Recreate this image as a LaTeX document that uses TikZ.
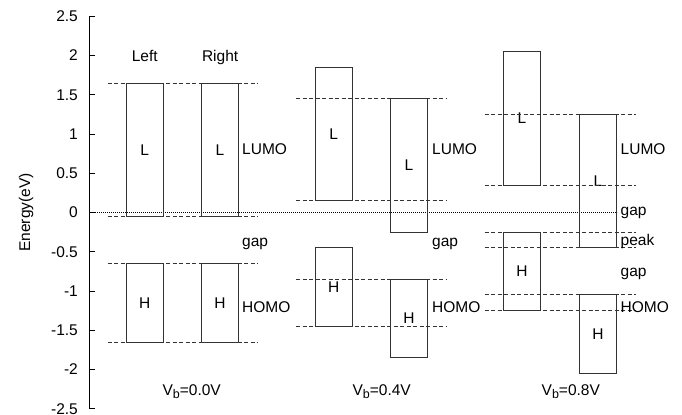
\documentclass[tikz,border=0pt]{standalone}
\usepackage{fontspec}
\setmainfont{Liberation Sans}
\usetikzlibrary{arrows.meta,positioning}
\newcommand{\biasV}[1]{V\raisebox{-0.35ex}{\fontsize{12.5}{12.5}\selectfont b}=#1V}
\tikzset{
  band/.style={draw=black!80,line width=0.9pt},
  lvl/.style={draw=black!80,line width=0.9pt,dash pattern=on 4pt off 2.5pt},
  lab/.style={inner sep=0pt,font=\fontsize{15.5}{17}\selectfont},
}

\begin{document}
\begin{tikzpicture}[x=1pt,y=78.5pt,>=Latex]
\useasboundingbox (0,-2.567) rectangle (682,2.707);
% axis
\draw[line width=0.9pt] (89,2.5)--(89,-2.5);
\foreach \v [count=\i] in {2.5,2,1.5,1,0.5,0,-0.5,-1,-1.5,-2,-2.5} {
  \draw[line width=0.9pt] (89,\v)--(95,\v);
  \node[lab,anchor=east] (tick\i) at (78,\v) {\v};
}
\node[lab,rotate=90] (ylab) at (26,0) {Energy(eV)};
\draw[line width=0.6pt,dash pattern=on 0.8pt off 1.2pt] (89,0)--(617,0);

% boxes: x/top/bottom/letter
\foreach \x/\t/\b/\s [count=\i] in {126/1.65/-0.05/L,201.3/1.65/-0.05/L,
    126/-0.65/-1.65/H,201.3/-0.65/-1.65/H,
    315/1.85/0.15/L,390.3/1.45/-0.25/L,315/-0.45/-1.45/H,390.3/-0.85/-1.85/H,
    503.3/2.05/0.35/L,579.3/1.25/-0.45/L,503.3/-0.25/-1.25/H,579.3/-1.05/-2.05/H} {
  \draw[band] (\x,\t) rectangle (\x+37.5,\b);
  \node[lab] (box\i) at (\x+18.75,{(\t+\b)/2}) {\s};
}

% levels
\foreach \y in {1.65,-0.05,-0.65,-1.65} \draw[lvl] (107.7,\y)--(258.3,\y);
\foreach \y in {1.45,0.15,-0.85,-1.45} \draw[lvl] (296,\y)--(446.7,\y);
\foreach \y in {1.25,0.35,-0.25,-0.45,-1.05,-1.25} \draw[lvl] (484.7,\y)--(636,\y);

\node[lab,anchor=base] (left) at (144.7,1.92) {Left};
\node[lab,anchor=base] (right) at (220.1,1.92) {Right};

% side labels
\foreach \x [count=\i] in {242,432} {
  \node[lab,anchor=base west] (lumo\i) at (\x,0.74) {LUMO};
  \node[lab,anchor=base west] (gap\i) at (\x,-0.43) {gap};
  \node[lab,anchor=base west] (homo\i) at (\x,-1.27) {HOMO};
}
\node[lab,anchor=base west] (lumo3) at (620.5,0.74) {LUMO};
\node[lab,anchor=base west] (gap3) at (620.5,-0.04) {gap};
\node[lab,anchor=base west] (peak) at (620.5,-0.42) {peak};
\node[lab,anchor=base west] (gap4) at (620.5,-0.81) {gap};
\node[lab,anchor=base west] (homo3) at (620.5,-1.27) {HOMO};

\node[lab,anchor=base] (bias1) at (191.7,-2.334) {\biasV{0.0}};
\node[lab,anchor=base] (bias2) at (381.7,-2.334) {\biasV{0.4}};
\node[lab,anchor=base] (bias3) at (570.8,-2.334) {\biasV{0.8}};
\end{tikzpicture}
\end{document}
